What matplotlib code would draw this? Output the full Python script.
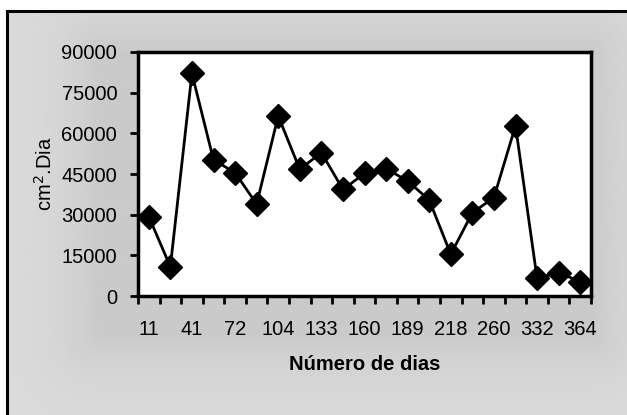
import numpy as np
import matplotlib.pyplot as plt
from matplotlib.ticker import FixedLocator, NullFormatter

plt.rcParams['font.family'] = ['Liberation Sans', 'DejaVu Sans']

# leituras (cm2.dia) em cada amostragem
valores = [29300, 10800, 82100, 50200, 45500, 33900, 66400, 46700, 52900, 39300,
           45200, 47000, 42400, 35400, 15400, 30700, 36300, 62800, 6500, 8600, 5300]
rotulos = ['11', '41', '72', '104', '133', '160', '189', '218', '260', '332', '364']
y_ticks = [0, 15000, 30000, 45000, 60000, 75000, 90000]

W, H = 627, 415
fig = plt.figure(figsize=(W / 100, H / 100), dpi=100)

# fundo cinza com sombreado em volta da area do grafico
bg = fig.add_axes([0, 0, 1, 1])
yy, xx = np.mgrid[0:H, 0:W]
x0, x1, y0, y1 = 100, 591, 52, 335
dx = np.maximum(np.maximum(x0 - xx, xx - x1), 0)
dy = np.maximum(np.maximum(y0 - yy, yy - y1), 0)
d = np.hypot(dx, dy)
img = 0.865 - 0.075 * np.exp(-d / 45.0)
img[yy < 11] = 1.0
img[xx < 6] = 1.0
bg.imshow(img, cmap='gray', vmin=0, vmax=1, extent=(0, W, H, 0), aspect='auto',
          interpolation='bilinear')
bg.plot([7, 7], [11.5, H], color='black', lw=2.2)
bg.plot([7, W], [11.5, 11.5], color='black', lw=2.2)
bg.set_xlim(0, W)
bg.set_ylim(H, 0)
bg.axis('off')

ax = fig.add_axes([138 / W, 1 - 296 / H, (591 - 138) / W, (296 - 52) / H])
ax.set_facecolor('white')
x = np.arange(len(valores))
ax.plot(x, valores, color='black', lw=2, marker='D', markersize=12.5,
        markerfacecolor='black', markeredgecolor='black', zorder=3, clip_on=False)

ax.set_xlim(-0.5, len(valores) - 0.5)
ax.set_ylim(0, 90000)
ax.set_yticks(y_ticks)
ax.set_yticklabels([str(v) for v in y_ticks])

ax.xaxis.set_major_locator(FixedLocator(np.arange(-0.5, len(valores), 1)))
ax.xaxis.set_major_formatter(NullFormatter())
ax.xaxis.set_minor_locator(FixedLocator(x[::2]))
ax.set_xticklabels(rotulos, minor=True)
ax.tick_params(axis='x', which='major', direction='out', length=6, width=2)
ax.tick_params(axis='x', which='minor', length=0, pad=17, labelsize=14.5)
ax.tick_params(axis='y', direction='out', length=6, width=2, pad=9, labelsize=14.5)

for s in ax.spines.values():
    s.set_linewidth(2.5)

ax.set_xlabel('Número de dias', fontsize=14.5, fontweight='bold', labelpad=12)
ax.set_ylabel('cm$^2$.Dia', fontsize=14.5, labelpad=4)

fig.savefig('out.png', dpi=100)
